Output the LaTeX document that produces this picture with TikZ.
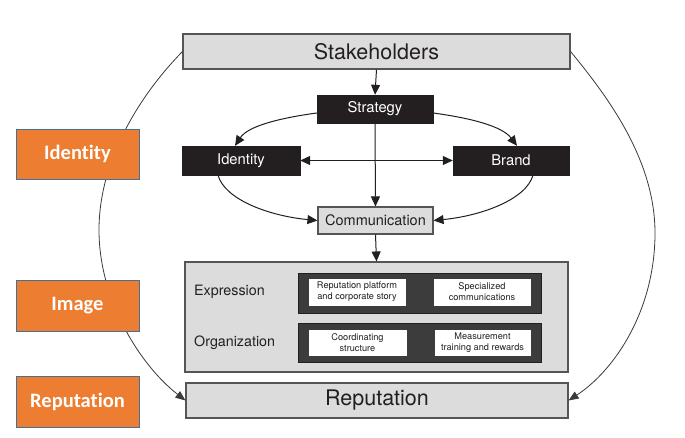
\documentclass[tikz,border=0pt]{standalone}
\usepackage{fontspec}
\setmainfont{TeX Gyre Heros}
\newfontfamily\carl[Ligatures={NoCommon}]{Carlito}
\usetikzlibrary{arrows.meta}
\definecolor{boxgray}{HTML}{DCDCDC}
\definecolor{edgegray}{HTML}{555555}
\definecolor{ink}{HTML}{231F20}
\definecolor{band}{HTML}{3C3C3C}
\definecolor{orng}{HTML}{ED7D31}
\definecolor{orngedge}{HTML}{41719C}
\definecolor{curvecol}{HTML}{3A3A3A}
\tikzset{
  graybox/.style={draw=edgegray, fill=boxgray, line width=1.1pt, inner sep=0pt, text=ink},
  blackbox/.style={draw=ink, fill=ink, inner sep=0pt, text=white, font=\fontsize{14.8}{16}\selectfont},
  bandbox/.style={draw=ink, fill=band, line width=0.8pt, inner sep=0pt},
  whitebox/.style={draw=band, fill=white, inner sep=0pt, text=ink, align=center, font=\fontsize{9.2}{11}\selectfont},
  orangebox/.style={draw=orngedge, fill=orng, line width=0.8pt, inner sep=0pt, text=white, minimum width=123pt, font=\carl\bfseries\fontsize{20.5}{22}\selectfont},
  conn/.style={draw=ink, line width=1pt, -{Triangle[length=10pt,width=9pt]}},
  bigcurve/.style={draw=curvecol, line width=0.8pt, -{Triangle[length=10pt,width=8pt]}},
  sidelabel/.style={anchor=west, inner sep=0pt, text=ink, font=\fontsize{14.3}{16}\selectfont}
}
\begin{document}
\begin{tikzpicture}[x=1pt,y=-1pt]
\useasboundingbox (0,0) rectangle (685,438);
\fill[white] (0,0) rectangle (685,438);

% main nodes
\node[graybox, minimum width=387pt, minimum height=35pt, font=\fontsize{21.5}{24}\selectfont] (stake) at (376.5,51.5) {Stakeholders};
\node[blackbox, minimum width=116pt, minimum height=28pt] (strat) at (375,109) {Strategy};
\node[blackbox, minimum width=118pt, minimum height=29pt] (idb) at (241,160.5) {Identity};
\node[blackbox, minimum width=116pt, minimum height=29pt] (brand) at (511,160.5) {Brand};
\node[graybox, minimum width=115pt, minimum height=27pt, font=\fontsize{14.5}{16}\selectfont] (comm) at (375.5,220.5) {Communication};

\node[graybox, minimum width=383pt, minimum height=110pt] (mid) at (376.5,317) {};
\node[bandbox, minimum width=243pt, minimum height=40pt] (row1) at (419.5,293) {};
\node[bandbox, minimum width=243pt, minimum height=39pt] (row2) at (419.5,342.5) {};
\node[whitebox, minimum width=98pt, minimum height=28pt] (w1a) at (357,292) {Reputation platform\\and corporate story};
\node[whitebox, minimum width=98pt, minimum height=28pt] (w1b) at (482,292) {Specialized\\communications};
\node[whitebox, minimum width=99pt, minimum height=27pt] (w2a) at (357.5,342.5) {Coordinating\\structure};
\node[whitebox, minimum width=97pt, minimum height=27pt] (w2b) at (482.5,342.5) {Measurement\\training and rewards};
\node[sidelabel] (expr) at (194,292) {Expression};
\node[sidelabel] (org) at (194,342.5) {Organization};

\node[graybox, minimum width=382pt, minimum height=35pt, font=\fontsize{21.5}{24}\selectfont] (rep) at (377,400.5) {Reputation};

% connectors
\draw[conn] (stake.south) -- (strat.north);
\draw[conn] (strat.south) -- (comm.north);
\draw[draw=ink, line width=1pt, {Triangle[length=10pt,width=9pt]}-{Triangle[length=10pt,width=9pt]}] (idb.east) -- (brand.west);
\draw[conn] (comm.south) -- (mid.north);
\draw[conn] ([yshift=-4pt]strat.west) .. controls (280,118) and (248,126) .. ([xshift=-6pt]idb.north);
\draw[conn] ([yshift=-4pt]strat.east) .. controls (470,118) and (502,126) .. ([xshift=6pt]brand.north);
\draw[conn] ([xshift=-23pt]idb.south) .. controls (225,200) and (270,216) .. (comm.west);
\draw[conn] ([xshift=22pt]brand.south) .. controls (526,200) and (480,216) .. (comm.east);

% big outer curves
\coordinate (lmid) at (99,230);
\coordinate (rmid) at (655,233);
\draw[bigcurve] (stake.west) .. controls (140,95) and (99,160) .. (lmid) .. controls (99,300) and (140,365) .. (rep.west);
\draw[bigcurve] (stake.east) .. controls (608,97) and (655,160) .. (rmid) .. controls (655,310) and (615,370) .. (rep.east);

% orange side labels
\node[orangebox, minimum height=50pt] (oid) at (77.5,154) {Identity};
\node[orangebox, minimum height=51pt] (oim) at (77.5,305.5) {Image};
\node[orangebox, minimum height=51pt] (orep) at (77.5,401.5) {Reputation};
\end{tikzpicture}
\end{document}
